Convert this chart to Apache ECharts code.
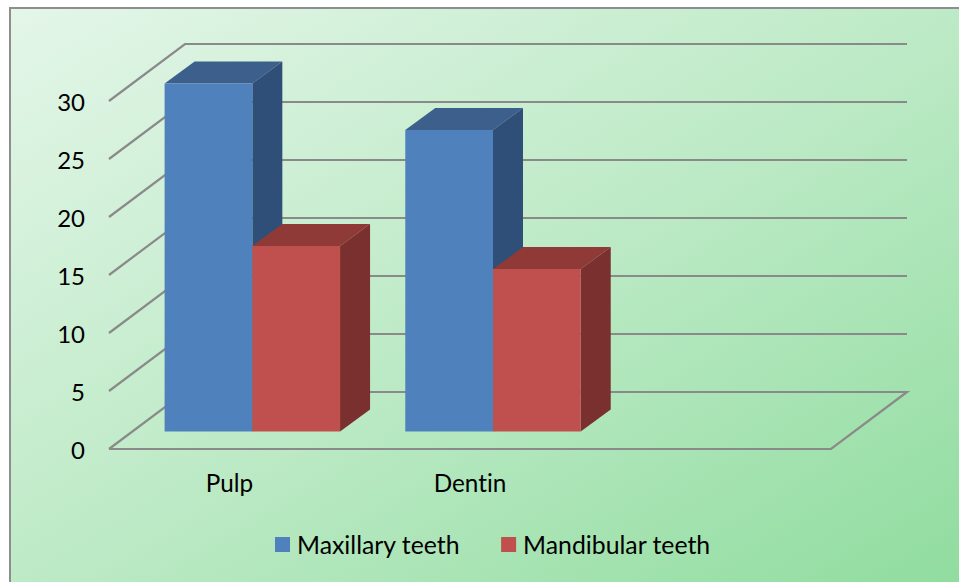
<!DOCTYPE html>
<html>
<head>
<meta charset="utf-8">
<style>
html,body{margin:0;padding:0;background:#fff}
#chart{width:959px;height:582px}
#chart text{font-variant-ligatures:none !important}
</style>
<script src="https://cdn.jsdelivr.net/npm/echarts@6/dist/echarts.min.js"></script>
</head>
<body>
<div id="chart"></div>
<script>
// Tooth tissue values by tissue type
const categories = ['Pulp', 'Dentin', ''];
const maxillaryTeeth = [30, 26, null];
const mandibularTeeth = [16, 14, null];
const gridValues = [0, 5, 10, 15, 20, 25, 30];

// Oblique projection used for the box look
const DEPTH_X = 76, DEPTH_Y = -57;   // full floor depth
const BAR_DX = 30, BAR_DY = -22;     // depth of one bar
const GAP_X = 23, GAP_Y = -17.5;     // distance from floor front edge to bar front
const BAR_RATIO = 0.3645;            // bar width relative to category band

const FONT = 'Lato';

function gridItem(params, api) {
  const cs = params.coordSys;
  const v = api.value(0);
  const y = api.coord([0, v])[1];
  const x0 = cs.x, x1 = cs.x + cs.width;
  const pts = v === 0
    ? [[x0, y], [x1, y], [x1 + DEPTH_X, y + DEPTH_Y], [x0 + DEPTH_X, y + DEPTH_Y], [x0, y]]
    : [[x0, y], [x0 + DEPTH_X, y + DEPTH_Y], [x1 + DEPTH_X, y + DEPTH_Y]];
  return {
    type: 'polyline',
    shape: { points: pts },
    style: { fill: null, stroke: '#8a8a8a', lineWidth: 2.2 },
    silent: true
  };
}

// Builds one box (front, top and side faces); side: -1 left of the band centre, 0 right of it
function boxRenderer(side, colors) {
  return function (params, api) {
    const cat = api.value(0), val = api.value(1);
    if (val == null || isNaN(val)) return null;
    const band = api.size([1, 0])[0];
    const w = band * BAR_RATIO;
    const top = api.coord([cat, val]);
    const base = api.coord([cat, 0]);
    const l = top[0] + GAP_X + side * w;
    const r = l + w;
    const t = top[1] + GAP_Y;
    const b = base[1] + GAP_Y;
    return {
      type: 'group',
      children: [
        { type: 'polygon', shape: { points: [[l, t], [l + BAR_DX, t + BAR_DY], [r + BAR_DX, t + BAR_DY], [r, t]] }, style: { fill: colors.top } },
        { type: 'polygon', shape: { points: [[r, t], [r + BAR_DX, t + BAR_DY], [r + BAR_DX, b + BAR_DY], [r, b]] }, style: { fill: colors.side } },
        { type: 'rect', shape: { x: l, y: t, width: w, height: b - t }, style: { fill: colors.front } }
      ]
    };
  };
}

const chart = echarts.init(document.getElementById('chart'), null, { renderer: 'svg' });
chart.setOption({
  animation: false,
  backgroundColor: '#ffffff',
  graphic: [{
    type: 'rect',
    z: -10,
    silent: true,
    shape: { x: 10, y: 8, width: 960, height: 585 },
    style: {
      stroke: '#8e8e8e',
      lineWidth: 2,
      // Isolines run along the panel's anti-diagonal, so both off corners share the mid colour
      fill: {
        type: 'linear', global: true, x: 10, y: 8, x2: 529, y2: 861,
        colorStops: [
          { offset: 0, color: '#e4f6e9' },
          { offset: 0.5, color: '#bdeac6' },
          { offset: 1, color: '#8fdc9e' }
        ]
      }
    }
  }],
  legend: {
    left: 270,
    top: 527,
    itemWidth: 15,
    itemHeight: 15,
    itemGap: 41,
    icon: 'rect',
    data: ['Maxillary teeth', 'Mandibular teeth'],
    textStyle: { fontFamily: FONT, fontSize: 24.8, color: '#000', padding: [0, 0, 6, 2] }
  },
  grid: { left: 109, right: 128, top: 101, bottom: 133 },
  xAxis: {
    type: 'category',
    data: categories,
    axisLine: { show: false },
    axisTick: { show: false },
    axisLabel: { fontFamily: FONT, fontSize: 24.3, color: '#000', margin: 21 }
  },
  yAxis: {
    type: 'value',
    min: 0,
    max: 30,
    interval: 5,
    splitLine: { show: false },
    axisLine: { show: false },
    axisTick: { show: false },
    axisLabel: { fontFamily: FONT, fontSize: 24, color: '#000', margin: 24, padding: [0, 0, 2, 0] }
  },
  series: [
    {
      type: 'custom',
      name: 'grid',
      z: 1,
      silent: true,
      renderItem: gridItem,
      coordinateSystem: 'cartesian2d',
      encode: { y: 0 },
      data: gridValues.map(v => [v])
    },
    {
      type: 'custom',
      name: 'Maxillary teeth',
      z: 2,
      itemStyle: { color: '#4f81bd' },
      renderItem: boxRenderer(-1, { front: '#4f81bd', top: '#3c5f8c', side: '#2f4f78' }),
      encode: { x: 0, y: 1 },
      data: maxillaryTeeth.map((v, i) => [i, v])
    },
    {
      type: 'custom',
      name: 'Mandibular teeth',
      z: 3,
      itemStyle: { color: '#c0504d' },
      renderItem: boxRenderer(0, { front: '#c0504d', top: '#8f3a37', side: '#7a302e' }),
      encode: { x: 0, y: 1 },
      data: mandibularTeeth.map((v, i) => [i, v])
    }
  ]
});
</script>
</body>
</html>
